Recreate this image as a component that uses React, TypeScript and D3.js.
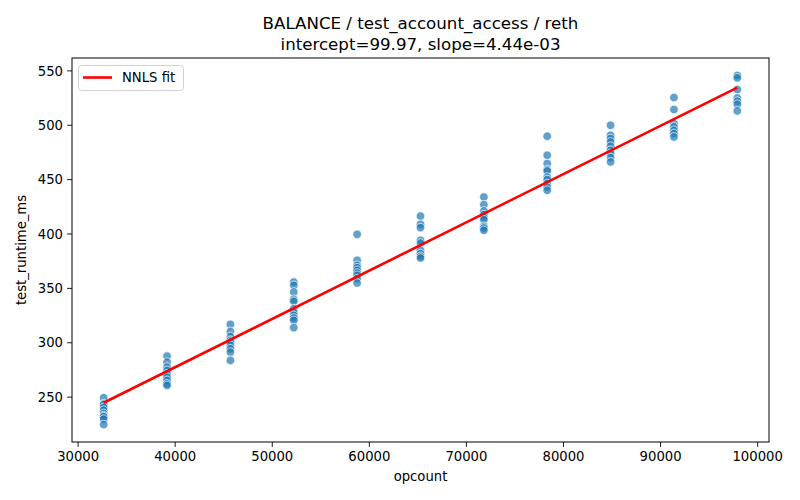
import React from "react";
import * as d3 from "d3";

const opcounts = [32635, 39162, 45689, 52216, 58743, 65270, 71797, 78324, 84851, 91378, 97905];

const runtimes: number[][] = [
  [249.5, 244, 243.3, 240.5, 238, 235, 233, 232, 229.8, 224.8],
  [287.7, 282.2, 277.6, 274.6, 271.5, 268.4, 265.4, 262.3, 260.8],
  [316.9, 310.4, 305.8, 302.2, 300.6, 297.6, 294.5, 291.4, 283.8],
  [355.8, 352.8, 346.6, 339.9, 338.1, 331.3, 328.2, 325.2, 322.7, 320.6, 313.9],
  [399.7, 375.8, 371.2, 369.1, 366.6, 364.1, 362, 359, 354.9],
  [416.5, 408.9, 405.9, 394.2, 391.7, 385, 382, 379.5, 377.9],
  [434, 427, 421.2, 417.8, 415.1, 413.2, 407.1, 405.5, 403.4],
  [489.9, 472.4, 464.8, 459.3, 458, 452.4, 450.1, 446.4, 443.2, 440.2],
  [500, 490.8, 487.8, 484.7, 480.7, 477, 474, 470.3, 466.3],
  [525.5, 514.5, 501.6, 498.5, 495.4, 492.4, 489.3],
  [545.8, 543.6, 532.9, 525.1, 522.1, 519.3, 513.2],
];

const intercept = 99.97;
const slope = 4.44e-3;

const xTicks = [30000, 40000, 50000, 60000, 70000, 80000, 90000, 100000];
const yTicks = [250, 300, 350, 400, 450, 500, 550];

const titleLines = ["BALANCE / test_account_access / reth", "intercept=99.97, slope=4.44e-03"];
const xLabel = "opcount";
const yLabel = "test_runtime_ms";
const legendLabel = "NNLS fit";

export default function App() {
  const W = 800, H = 500;
  const left = 72, right = 769, top = 58, bottom = 442;
  const font = "DejaVu Sans, sans-serif";

  const points = opcounts.flatMap((x, i) => runtimes[i].map((y) => ({ x, y })));
  const xMin = d3.min(opcounts)!, xMax = d3.max(opcounts)!;
  const allY = points.map((p) => p.y);
  const yMin = d3.min(allY)!, yMax = d3.max(allY)!;
  const xr = xMax - xMin, yrng = yMax - yMin;

  const x = d3.scaleLinear().domain([xMin - 0.05 * xr, xMax + 0.05 * xr]).range([left, right]);
  const y = d3.scaleLinear().domain([yMin - 0.05 * yrng, yMax + 0.05 * yrng]).range([bottom, top]);

  const fitLine = d3.line<number>().x((d) => x(d)).y((d) => y(intercept + slope * d));

  return (
    <div style={{ margin: -8 }}>
      <svg width={W} height={H} style={{ display: "block", background: "#fff" }} fontFamily={font}>
        {titleLines.map((t, i) => (
          <text key={i} x={(left + right) / 2} y={29 + i * 21} textAnchor="middle" fontSize={16.67} fill="#000">
            {t}
          </text>
        ))}
        {points.map((p, i) => (
          <circle key={i} cx={x(p.x)} cy={y(p.y)} r={4.3} fill="#1f77b4" fillOpacity={0.7} stroke="#fff" strokeWidth={0.7} />
        ))}
        <path d={fitLine([xMin, xMax]) || ""} fill="none" stroke="red" strokeWidth={2.6} />
        <rect x={left} y={top} width={right - left} height={bottom - top} fill="none" stroke="#000" strokeWidth={1} />
        {xTicks.map((t) => (
          <g key={t} transform={`translate(${x(t)},${bottom})`}>
            <line y2={4.9} stroke="#000" strokeWidth={0.9} />
            <text y={19} textAnchor="middle" fontSize={13.2} fill="#000">{t}</text>
          </g>
        ))}
        {yTicks.map((t) => (
          <g key={t} transform={`translate(${left},${y(t)})`}>
            <line x2={-4.9} stroke="#000" strokeWidth={0.9} />
            <text x={-9} dy="0.35em" textAnchor="end" fontSize={13.2} fill="#000">{t}</text>
          </g>
        ))}
        <text x={(left + right) / 2} y={481} textAnchor="middle" fontSize={13.2} fill="#000">{xLabel}</text>
        <text transform={`translate(26,${(top + bottom) / 2}) rotate(-90)`} textAnchor="middle" fontSize={13.2} fill="#000">{yLabel}</text>
        <g>
          <rect x={78.5} y={65.5} width={105} height={25} rx={3} fill="#fff" fillOpacity={0.8} stroke="#d0d0d0" />
          <line x1={83} x2={112} y1={77.5} y2={77.5} stroke="red" strokeWidth={2.6} />
          <text x={122} y={82} fontSize={13.2} fill="#000">{legendLabel}</text>
        </g>
      </svg>
    </div>
  );
}
